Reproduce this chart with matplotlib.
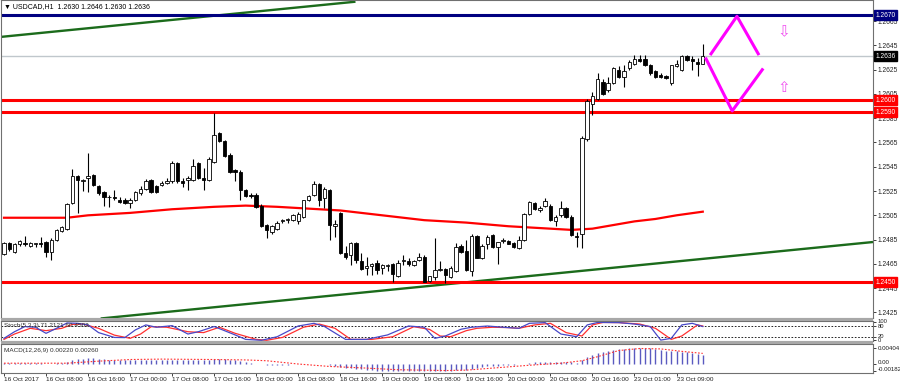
import numpy as np
import matplotlib
matplotlib.use("Agg")
import matplotlib.pyplot as plt
from matplotlib.patches import Rectangle

plt.rcParams['font.family'] = ['Liberation Sans', 'DejaVu Sans']

# ---- price data (USDCAD H1) ----
opens = [1.2473, 1.2482, 1.2475, 1.2481, 1.2482, 1.2480, 1.2481, 1.2482, 1.2483, 1.2475,
         1.2485, 1.2492, 1.2494, 1.2515, 1.2537, 1.2533, 1.2536, 1.2538, 1.2529, 1.2524,
         1.2520, 1.2520, 1.2518, 1.2518, 1.2515, 1.2518, 1.2523, 1.2527, 1.2534, 1.2529,
         1.2530, 1.2532, 1.2533, 1.2548, 1.2533, 1.2534, 1.2534, 1.2548, 1.2536, 1.2534,
         1.2549, 1.2573, 1.2566, 1.2555, 1.2542, 1.2541, 1.2526, 1.2522, 1.2522, 1.2513,
         1.2497, 1.2491, 1.2494, 1.2500, 1.2501, 1.2501, 1.2500, 1.2504, 1.2518, 1.2522,
         1.2531, 1.2519, 1.2526, 1.2496, 1.2507, 1.2474, 1.2472, 1.2482, 1.2467, 1.2462,
         1.2463, 1.2466, 1.2462, 1.2463, 1.2465, 1.2455, 1.2467, 1.2467, 1.2464, 1.2468,
         1.2471, 1.2451, 1.2454, 1.2460, 1.2461, 1.2454, 1.2459, 1.2480, 1.2476, 1.2459,
         1.2488, 1.2470, 1.2481, 1.2489, 1.2479, 1.2484, 1.2484, 1.2482, 1.2478, 1.2485,
         1.2506, 1.2515, 1.2509, 1.2513, 1.2513, 1.2500, 1.2505, 1.2511, 1.2504, 1.2488,
         1.2490, 1.2568, 1.2597, 1.2601, 1.2615, 1.2608, 1.2614, 1.2625, 1.2619, 1.2626,
         1.2630, 1.2634, 1.2634, 1.2629, 1.2624, 1.2621, 1.2620, 1.2614, 1.2628, 1.2625,
         1.2636, 1.2634, 1.2631, 1.2630]
highs = [1.2483, 1.2483, 1.2482, 1.2485, 1.2488, 1.2483, 1.2482, 1.2487, 1.2484, 1.2486,
         1.2494, 1.2496, 1.2515, 1.2543, 1.2538, 1.2535, 1.2556, 1.2539, 1.2530, 1.2525,
         1.2522, 1.2526, 1.2520, 1.2519, 1.2519, 1.2525, 1.2529, 1.2535, 1.2535, 1.2530,
         1.2533, 1.2536, 1.2550, 1.2549, 1.2536, 1.2537, 1.2551, 1.2549, 1.2544, 1.2553,
         1.2589, 1.2574, 1.2567, 1.2556, 1.2543, 1.2542, 1.2527, 1.2523, 1.2523, 1.2514,
         1.2498, 1.2497, 1.2500, 1.2502, 1.2503, 1.2506, 1.2508, 1.2518, 1.2522, 1.2533,
         1.2532, 1.2528, 1.2527, 1.2501, 1.2508, 1.2480, 1.2483, 1.2483, 1.2474, 1.2471,
         1.2466, 1.2468, 1.2465, 1.2465, 1.2466, 1.2468, 1.2472, 1.2470, 1.2468, 1.2474,
         1.2472, 1.2455, 1.2486, 1.2467, 1.2462, 1.2463, 1.2482, 1.2481, 1.2485, 1.2490,
         1.2489, 1.2481, 1.2489, 1.2490, 1.2483, 1.2486, 1.2485, 1.2483, 1.2488, 1.2507,
         1.2517, 1.2516, 1.2513, 1.2519, 1.2514, 1.2505, 1.2517, 1.2512, 1.2505, 1.2491,
         1.2570, 1.2601, 1.2607, 1.2622, 1.2617, 1.2619, 1.2627, 1.2628, 1.2629, 1.2633,
         1.2637, 1.2637, 1.2637, 1.2630, 1.2625, 1.2622, 1.2621, 1.2629, 1.2633, 1.2637,
         1.2637, 1.2636, 1.2635, 1.2646]
lows = [1.2472, 1.2476, 1.2474, 1.2480, 1.2480, 1.2479, 1.2479, 1.2479, 1.2471, 1.2468,
        1.2484, 1.2491, 1.2493, 1.2514, 1.2507, 1.2525, 1.2524, 1.2529, 1.2522, 1.2513,
        1.2512, 1.2518, 1.2515, 1.2514, 1.2511, 1.2517, 1.2522, 1.2526, 1.2523, 1.2523,
        1.2529, 1.2531, 1.2532, 1.2532, 1.2528, 1.2526, 1.2533, 1.2535, 1.2526, 1.2533,
        1.2548, 1.2565, 1.2553, 1.2540, 1.2533, 1.2518, 1.2520, 1.2519, 1.2511, 1.2495,
        1.2486, 1.2490, 1.2493, 1.2499, 1.2499, 1.2500, 1.2498, 1.2503, 1.2517, 1.2521,
        1.2513, 1.2511, 1.2485, 1.2487, 1.2473, 1.2469, 1.2464, 1.2466, 1.2460, 1.2456,
        1.2456, 1.2457, 1.2457, 1.2459, 1.2450, 1.2454, 1.2464, 1.2463, 1.2463, 1.2467,
        1.2450, 1.2450, 1.2452, 1.2459, 1.2449, 1.2453, 1.2458, 1.2474, 1.2459, 1.2455,
        1.2470, 1.2469, 1.2477, 1.2478, 1.2465, 1.2482, 1.2481, 1.2478, 1.2477, 1.2484,
        1.2505, 1.2509, 1.2508, 1.2512, 1.2500, 1.2496, 1.2504, 1.2503, 1.2488, 1.2479,
        1.2478, 1.2566, 1.2588, 1.2600, 1.2604, 1.2607, 1.2613, 1.2618, 1.2611, 1.2625,
        1.2629, 1.2631, 1.2628, 1.2621, 1.2618, 1.2618, 1.2617, 1.2612, 1.2627, 1.2624,
        1.2632, 1.2625, 1.2620, 1.2630]
closes = [1.2482, 1.2477, 1.2481, 1.2484, 1.2481, 1.2482, 1.2482, 1.2481, 1.2475, 1.2485,
          1.2493, 1.2495, 1.2514, 1.2537, 1.2534, 1.2534, 1.2537, 1.2530, 1.2523, 1.2520,
          1.2520, 1.2519, 1.2516, 1.2515, 1.2518, 1.2524, 1.2527, 1.2533, 1.2524, 1.2524,
          1.2532, 1.2533, 1.2548, 1.2533, 1.2532, 1.2536, 1.2546, 1.2536, 1.2534, 1.2551,
          1.2571, 1.2566, 1.2554, 1.2541, 1.2541, 1.2526, 1.2521, 1.2521, 1.2512, 1.2496,
          1.2493, 1.2496, 1.2499, 1.2501, 1.2502, 1.2505, 1.2506, 1.2518, 1.2521, 1.2531,
          1.2518, 1.2527, 1.2497, 1.2498, 1.2474, 1.2471, 1.2482, 1.2468, 1.2461, 1.2463,
          1.2465, 1.2460, 1.2464, 1.2464, 1.2457, 1.2466, 1.2468, 1.2465, 1.2467, 1.2471,
          1.2450, 1.2455, 1.2460, 1.2461, 1.2456, 1.2462, 1.2479, 1.2475, 1.2460, 1.2488,
          1.2470, 1.2480, 1.2487, 1.2479, 1.2483, 1.2485, 1.2481, 1.2479, 1.2485, 1.2506,
          1.2516, 1.2510, 1.2511, 1.2517, 1.2501, 1.2504, 1.2511, 1.2504, 1.2489, 1.2487,
          1.2569, 1.2599, 1.2603, 1.2617, 1.2605, 1.2614, 1.2626, 1.2619, 1.2624, 1.2631,
          1.2634, 1.2632, 1.2629, 1.2622, 1.2619, 1.2619, 1.2618, 1.2629, 1.2630, 1.2636,
          1.2633, 1.2632, 1.2630, 1.2636]

# moving average (red), read at selected bars
ma_bars = [0, 8, 12, 16, 24, 32, 40, 46, 52, 56, 64, 72, 80, 88, 96, 104, 108, 112, 116, 120, 124, 128, 133]
ma_vals = [1.2503, 1.2503, 1.2503, 1.2505, 1.2507, 1.2510, 1.2512, 1.2513, 1.2512, 1.2511, 1.2509, 1.2505,
           1.2501, 1.2499, 1.2496, 1.2494, 1.2493, 1.2494, 1.2497, 1.2500, 1.2502, 1.2505, 1.2508]

# horizontal levels
red_levels = [1.2600, 1.2590, 1.2450]
blue_level = 1.2670
last_price = 1.2636

# trend channel anchors (bar, price)
upper_trend = [(-0.6, 1.2652), (66.9, 1.2681)]
lower_trend = [(18.4, 1.2420), (165.4, 1.2483)]

# magenta scenario lines (bar, price)
zig_up = [(134.4, 1.2637), (139.5, 1.2669), (143.7, 1.2637)]
zig_down = [(133.5, 1.2635), (138.6, 1.2591), (144.5, 1.2626)]

# stochastic
stoch_main_bars = [0, 2, 4, 6, 8, 10, 12, 14, 16, 18, 21, 23, 25, 27, 29, 32, 35, 37, 40, 44, 46, 49, 52, 56,
                   59, 61, 65, 69, 73, 77, 80, 82, 84, 87, 89, 92, 95, 98, 100, 103, 106, 109, 111, 113,
                   117, 120, 123, 125, 127, 129, 131, 133]
stoch_main = [11, 48, 77, 73, 39, 67, 97, 95, 86, 43, 16, 15, 58, 86, 73, 82, 35, 48, 77, 30, 5, 0, 20, 80,
              95, 77, 5, 5, 30, 80, 73, 11, 24, 62, 73, 80, 73, 67, 95, 99, 35, 20, 86, 100,
              99, 91, 77, 1, 11, 86, 95, 77]
stoch_sig_bars = [0, 2, 5, 8, 11, 13, 15, 18, 21, 24, 26, 28, 31, 35, 38, 41, 44, 48, 50, 53, 57, 60, 63, 66,
                  70, 74, 78, 81, 83, 85, 88, 90, 93, 96, 98, 101, 104, 107, 110, 112, 114, 117, 121,
                  124, 127, 129, 132, 133]
stoch_sig = [5, 35, 67, 54, 67, 89, 91, 67, 29, 11, 35, 76, 73, 48, 43, 73, 39, 5, 0, 16, 73, 91, 67, 5,
             5, 20, 76, 61, 24, 20, 54, 67, 73, 71, 67, 86, 95, 43, 24, 86, 100, 99, 91,
             67, 5, 24, 86, 80]

# MACD histogram per bar and signal line
macd_hist = [0.0002, 0.0002, 0.0003, 0.0003, 0.0003, 0.0002, 0.0002, 0.0002, 0.0001, 0.0001,
             0.0002, 0.0003, 0.0005, 0.0009, 0.0012, 0.0013, 0.0014, 0.0014, 0.0013, 0.0012,
             0.0011, 0.0010, 0.0009, 0.0009, 0.0009, 0.0009, 0.0009, 0.0010, 0.0009, 0.0009,
             0.0009, 0.0009, 0.0010, 0.0010, 0.0009, 0.0009, 0.0010, 0.0010, 0.0009, 0.0010,
             0.0012, 0.0013, 0.0012, 0.0011, 0.0009, 0.0007, 0.0005, 0.0003, 0.0001, -0.0001,
             -0.0002, -0.0002, -0.0002, -0.0002, -0.0002, -0.0001, -0.0001, -0.0001, 0.0000, 0.0001,
             0.0001, 0.0001, -0.0002, -0.0004, -0.0007, -0.0009, -0.0010, -0.0011, -0.0013, -0.0014,
             -0.0015, -0.0016, -0.0016, -0.0017, -0.0017, -0.0017, -0.0017, -0.0017, -0.0017, -0.0016,
             -0.0018, -0.00182, -0.0018, -0.0018, -0.0018, -0.0017, -0.0015, -0.0014, -0.0014, -0.0011,
             -0.0010, -0.0008, -0.0006, -0.0005, -0.0004, -0.0003, -0.0002, -0.0002, -0.0001, 0.0001,
             0.0003, 0.0004, 0.0005, 0.0006, 0.0005, 0.0005, 0.0006, 0.0006, 0.0004, 0.0003,
             0.0010, 0.0017, 0.0022, 0.0027, 0.0030, 0.0032, 0.0035, 0.0036, 0.0037, 0.0039,
             0.0040, 0.00404, 0.0040, 0.0038, 0.0036, 0.0034, 0.0032, 0.0032, 0.0031, 0.0030,
             0.0029, 0.0027, 0.0025, 0.0022]
macd_sig_bars = [0, 12, 18, 24, 30, 40, 46, 50, 56, 62, 69, 75, 84, 88, 93, 100, 106, 110, 113, 117, 121, 125, 129, 133]
macd_sig = [0.0002, 0.0002, 0.0007, 0.0011, 0.0012, 0.0011, 0.0010, 0.0008, 0.0000, -0.0006, -0.0010, -0.0014,
            -0.0016, -0.0015, -0.0010, -0.0003, 0.0002, 0.0008, 0.0018, 0.0033, 0.0038, 0.0037, 0.0031, 0.0026]

time_labels = ["16 Oct 2017", "16 Oct 08:00", "16 Oct 16:00", "17 Oct 00:00", "17 Oct 08:00",
               "17 Oct 16:00", "18 Oct 00:00", "18 Oct 08:00", "18 Oct 16:00", "19 Oct 00:00",
               "19 Oct 08:00", "19 Oct 16:00", "20 Oct 00:00", "20 Oct 08:00", "20 Oct 16:00",
               "23 Oct 01:00", "23 Oct 09:00"]

# ---- figure layout (pixel based, 900x387) ----
W, H = 900, 387
fig = plt.figure(figsize=(9, 3.87), dpi=100)
fig.patch.set_facecolor("white")


def px_axes(x0, y0, x1, y1):
    return fig.add_axes([x0 / W, 1 - y1 / H, (x1 - x0) / W, (y1 - y0) / H])


ax = px_axes(1, 0, 873, 318)
ax_st = px_axes(1, 321, 873, 341)
ax_md = px_axes(1, 344, 873, 373)

# gray separators between the windows
for y0, y1 in [(318, 321), (341, 344)]:
    fig.patches.append(Rectangle((1 / W, 1 - y1 / H), 872 / W, (y1 - y0) / H,
                                 transform=fig.transFigure, facecolor="#A8A8A8",
                                 edgecolor="none", zorder=0))

FS = 4.8
xlim = (-0.57, 165.4)
for a in (ax, ax_st, ax_md):
    a.set_xlim(*xlim)
    a.set_facecolor("white")
    for s in a.spines.values():
        s.set_color("#707070")
        s.set_linewidth(0.8)
    a.yaxis.tick_right()
    a.tick_params(axis="y", direction="out", length=2, width=0.6, labelsize=FS,
                  pad=1.5, colors="#202020")
    a.tick_params(axis="x", bottom=False, labelbottom=False)

# ---- main chart ----
o = np.array(opens)
h = np.array(highs)
l = np.array(lows)
c = np.array(closes)
x = np.arange(len(o))
up = c >= o

ax.set_ylim(1.24204, 1.26824)
ax.set_yticks(np.arange(1.2425, 1.2668, 0.0020))
ax.yaxis.set_major_formatter(plt.FormatStrFormatter("%.4f"))

ax.vlines(x, l, h, color="black", lw=0.8, zorder=3)
body_h = np.maximum(np.abs(c - o), 0.00003)
ax.bar(x, body_h, bottom=np.minimum(o, c), width=0.65,
       color=np.where(up, "white", "black"), edgecolor="black", lw=0.6, zorder=4)

ax.plot(ma_bars, ma_vals, color="#FF0000", lw=1.6, zorder=2)

# trend channel
for pts in (upper_trend, lower_trend):
    xs, ys = zip(*pts)
    ax.plot(xs, ys, color="#1B6B1B", lw=1.7, zorder=2, solid_capstyle="butt")

# horizontal levels
ax.axhline(last_price, color="#C0C7CC", lw=1.0, zorder=1)
ax.axhline(blue_level, color="#000080", lw=2.2, zorder=2)
for lv in red_levels:
    ax.axhline(lv, color="#FF0000", lw=2.2, zorder=2)

# magenta scenarios
for pts in (zig_up, zig_down):
    xs, ys = zip(*pts)
    ax.plot(xs, ys, color="#FF00FF", lw=2.2, zorder=5, solid_capstyle="butt")
ax.text(148.5, 1.2656, "\u21e9", color="#F050F0", fontsize=11, ha="center", va="center",
        zorder=5, family="DejaVu Sans")
ax.text(148.5, 1.2610, "\u21e7", color="#F050F0", fontsize=11, ha="center", va="center",
        zorder=5, family="DejaVu Sans")

# price boxes on the axis
ytr = ax.get_yaxis_transform()
boxes = [(blue_level, "#000080")] + [(lv, "#FF0000") for lv in red_levels] + [(last_price, "black")]
for val, col in boxes:
    ax.text(1.003, val, "%.4f" % val, transform=ytr, fontsize=FS, color="white",
            ha="left", va="center", zorder=10, clip_on=False,
            bbox=dict(boxstyle="square,pad=0.2", facecolor=col, edgecolor=col))

ax.text(0.004, 0.978, "\u25bc USDCAD,H1  1.2630 1.2646 1.2630 1.2636", transform=ax.transAxes,
        fontsize=5.0, color="black", ha="left", va="center")

# ---- stochastic ----
ax_st.set_ylim(-4, 108)
ax_st.set_yticks([0, 20, 80, 100])
ax_st.set_yticklabels([])
ytr_st = ax_st.get_yaxis_transform()
for val, pos, txt in [(100, 104, "100"), (80, 77, "80"), (20, 24, "20"), (0, -2, "0")]:
    ax_st.text(1.005, pos, txt, transform=ytr_st, fontsize=4.2, color="#202020",
               ha="left", va="center", clip_on=False)
ax_st.axhline(80, color="black", lw=0.6, ls=(0, (2, 2)))
ax_st.axhline(20, color="black", lw=0.6, ls=(0, (2, 2)))
ax_st.plot(stoch_sig_bars, stoch_sig, color="#FF3030", lw=0.9)
ax_st.plot(stoch_main_bars, stoch_main, color="#4848C8", lw=0.9)
ax_st.text(0.004, 0.78, "Stoch(5,3,3) 71.2121 60.4503", transform=ax_st.transAxes,
           fontsize=4.6, color="#303030", ha="left", va="center")

# ---- MACD ----
ax_md.set_ylim(-0.0022, 0.0049)
ax_md.set_yticks([-0.00182, 0.0, 0.00404])
ax_md.set_yticklabels([])
ytr_md = ax_md.get_yaxis_transform()
for pos, txt in [(0.0039, "0.00404"), (0.0004, "0.00"), (-0.0013, "-0.00182")]:
    ax_md.text(1.005, pos, txt, transform=ytr_md, fontsize=4.4, color="#202020",
               ha="left", va="center", clip_on=False)
ax_md.vlines(x, 0, macd_hist, color="#5A5AC0", lw=1.0)
ax_md.plot(macd_sig_bars, macd_sig, color="#FF3030", lw=0.8, ls=(0, (1.5, 1.5)))
ax_md.text(0.004, 0.78, "MACD(12,26,9) 0.00220 0.00260", transform=ax_md.transAxes,
           fontsize=4.6, color="#303030", ha="left", va="center")

ax_md.tick_params(axis="x", bottom=True, labelbottom=True, direction="out", length=2,
                  width=0.6, labelsize=4.6, pad=1, colors="#202020")
ax_md.set_xticks(np.arange(0, 8 * len(time_labels), 8))
ax_md.set_xticklabels(time_labels, ha="left")

fig.savefig("out.png", dpi=100, facecolor="white")
